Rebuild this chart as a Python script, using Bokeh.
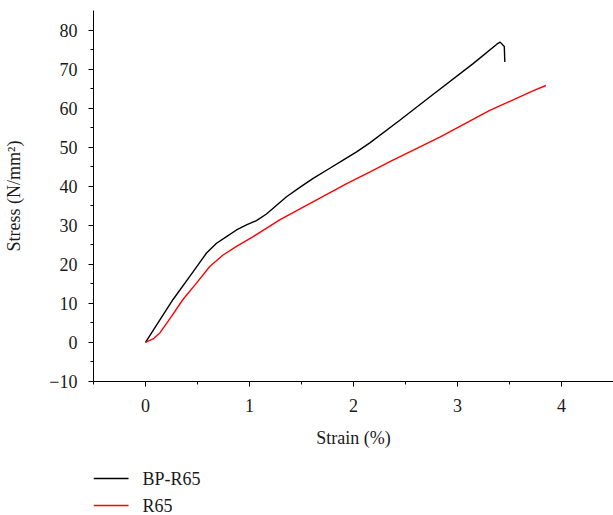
from bokeh.plotting import figure
from bokeh.layouts import column
from bokeh.models import Range1d, FixedTicker
from bokeh.core.properties import value
from bokeh.embed import file_html
from bokeh.resources import INLINE

# BP-R65 (black)
bp_strain = [0.0, 0.10, 0.265, 0.426, 0.587, 0.683, 0.779, 0.875, 0.971, 1.067, 1.163, 1.356, 1.484,
             1.612, 1.772, 1.90, 2.03, 2.157, 2.445, 2.73, 3.15, 3.39, 3.41, 3.45, 3.455]
bp_stress = [0.0, 4.2, 11.0, 16.9, 22.9, 25.4, 27.1, 28.8, 30.1, 31.2, 32.9, 37.3, 39.7,
             42.0, 44.6, 46.7, 48.8, 51.1, 56.9, 62.8, 71.4, 76.6, 76.9, 75.8, 71.8]

# R65 (red)
r_strain = [0.0, 0.073, 0.14, 0.25, 0.36, 0.49, 0.62, 0.746, 0.875, 1.035, 1.29, 1.61, 1.93, 2.16,
            2.35, 2.83, 3.31, 3.73, 3.85]
r_stress = [0.0, 0.9, 2.5, 6.7, 11.0, 15.2, 19.5, 22.4, 24.6, 27.1, 31.4, 36.0, 40.6, 43.7,
            46.3, 52.6, 59.4, 64.5, 65.8]

x_ticks = [0, 1, 2, 3, 4]
y_ticks = [-10, 0, 10, 20, 30, 40, 50, 60, 70, 80]
series_names = ["BP-R65", "R65"]
series_colors = ["black", "red"]

FONT = "Liberation Serif"
FS = "18px"
TXT = "#1a1a1a"

p = figure(width=613, height=450, output_backend="svg", toolbar_location=None,
           x_range=Range1d(-0.5, 4.5), y_range=Range1d(-10, 85),
           min_border_left=93, min_border_right=0, min_border_top=10, min_border_bottom=67)
p.grid.visible = False
p.outline_line_color = None

p.line(bp_strain, bp_stress, line_color=series_colors[0], line_width=1.4)
p.line(r_strain, r_stress, line_color=series_colors[1], line_width=1.4)

for ax in (p.xaxis[0], p.yaxis[0]):
    ax.major_tick_in = 0
    ax.major_tick_out = 5
    ax.minor_tick_in = 0
    ax.minor_tick_out = 3
    ax.axis_line_color = "black"
    ax.major_tick_line_color = "black"
    ax.minor_tick_line_color = "black"
    ax.major_label_text_font = FONT
    ax.major_label_text_font_size = FS
    ax.major_label_text_color = TXT
    ax.axis_label_text_font = FONT
    ax.axis_label_text_font_size = FS
    ax.axis_label_text_font_style = "normal"
    ax.axis_label_text_color = TXT

p.xaxis[0].ticker = FixedTicker(ticks=x_ticks, minor_ticks=[-0.5, 0.5, 1.5, 2.5, 3.5, 4.5])
p.yaxis[0].ticker = FixedTicker(ticks=y_ticks, minor_ticks=[-5, 5, 15, 25, 35, 45, 55, 65, 75])
p.yaxis[0].major_label_overrides = {-10: "\u221210"}
p.xaxis[0].axis_label = "Strain (%)"
p.yaxis[0].axis_label = "Stress (N/mm\u00b2)"
p.xaxis[0].major_label_standoff = 12
p.xaxis[0].axis_label_standoff = 13
p.yaxis[0].major_label_standoff = 11
p.yaxis[0].axis_label_standoff = 22

# legend panel: frame aligned with main frame, x in pixels from frame left
lg = figure(width=613, height=65, output_backend="svg", toolbar_location=None,
            x_range=Range1d(0, 520), y_range=Range1d(0, 65),
            min_border_left=93, min_border_right=0, min_border_top=0, min_border_bottom=0)
lg.axis.visible = False
lg.grid.visible = False
lg.outline_line_color = None
rows_y = [37, 10]
lg.segment(x0=[0, 0], y0=rows_y, x1=[35, 35], y1=rows_y,
           line_color=series_colors, line_width=1.4)
lg.text(x=[49, 49], y=rows_y, text=series_names, text_font=value(FONT),
        text_font_size=FS, text_color=TXT, text_baseline="middle", text_align="left")

layout = column(p, lg, spacing=0)
open("out.html", "w").write(file_html(layout, INLINE))
